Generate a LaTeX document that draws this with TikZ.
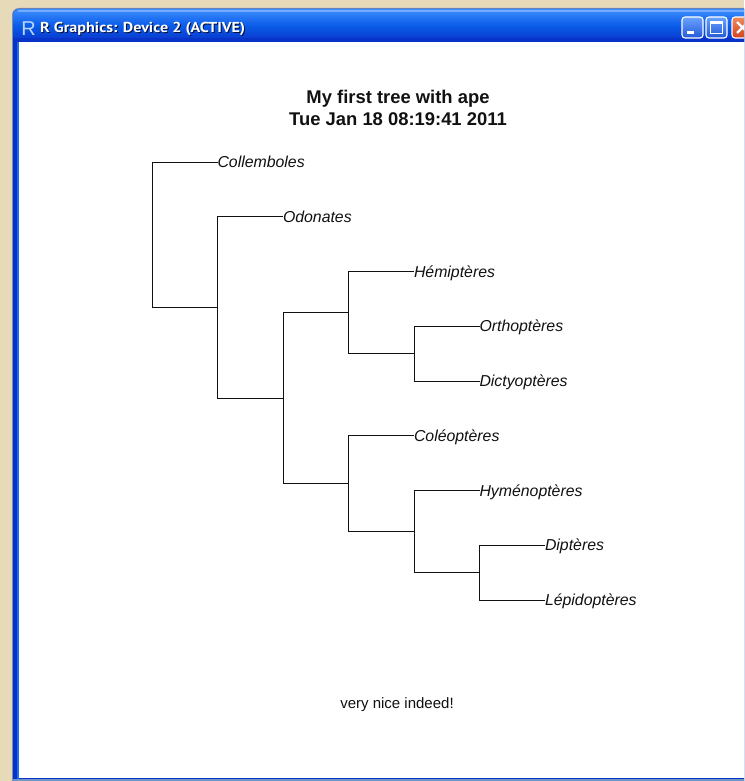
\documentclass[tikz,border=0pt]{standalone}
\usepackage{fontspec}
\setmainfont{Liberation Sans}
\newfontfamily\captionfont{PT Sans}
\definecolor{desk}{HTML}{E6DAB9}
\definecolor{xpdark}{HTML}{0833C8}
\definecolor{xpmid}{HTML}{0A5CE8}
\definecolor{xplight}{HTML}{3D8DFF}
\definecolor{xpedge}{HTML}{7D8BAA}
\definecolor{xpbottom}{HTML}{6F95C8}
\definecolor{btntop}{HTML}{6AA4FF}
\definecolor{btnbot}{HTML}{2458D8}
\definecolor{closetop}{HTML}{F08A5E}
\definecolor{closebot}{HTML}{D2421C}
\definecolor{ink}{HTML}{111111}
\newcommand{\wincaption}{\scalebox{1.12}[1]{R Graphics: Device 2 (ACTIVE)}}
\begin{document}
\begin{tikzpicture}[x=1pt,y=-1pt,
  branch/.style={draw=ink,line width=1pt},
  leaf/.style={anchor=west,inner sep=0pt,outer sep=0pt,text height=11.3pt,text depth=0pt,
    font=\fontsize{15.85}{18}\selectfont\itshape,text=ink},
  xpbtn/.style={draw=white,line width=1.1pt,rounded corners=3pt,top color=btntop,bottom color=btnbot},
  glyph/.style={fill=white,draw=none},
  captiontext/.style={anchor=west,inner sep=0pt,font=\captionfont\bfseries\fontsize{14.4}{16}\selectfont}]
\useasboundingbox (0,0) rectangle (744,781);
\clip (0,0) rectangle (744,781);
% desktop behind the window
\fill[desk] (0,0) rectangle (744,781);
% window frame
\fill[xpedge,rounded corners=7pt] (12,8) rectangle (760,790);
\fill[xpdark,rounded corners=6pt] (13,9) rectangle (760,790);
% title bar
\shade[top color=xplight,bottom color=xpdark,middle color=xpmid,rounded corners=6pt]
  (13,9) rectangle (760,42);
\fill[white,opacity=0.3] (18,10.5) rectangle (760,12);
\fill[xpdark] (13,38) rectangle (760,42);
\fill[xplight!60!xpdark] (17,42) rectangle (19,779);
% client area
\fill[white] (19,42) rectangle (760,778);
\fill[xpbottom] (13,778.5) rectangle (760,781);
% window icon and caption
\node[text=xplight!35!white,font=\fontsize{20}{20}\selectfont,inner sep=0pt] (icon) at (28.5,28.5) {R};
\node[captiontext,text=black!70!xpdark] at (41,30) {\wincaption};
\node[captiontext,text=white] (caption) at (40,29) {\wincaption};
% caption buttons
\path[xpbtn] (682,17) rectangle (703,38);
\fill[glyph] (687,31) rectangle (694,34);
\path[xpbtn] (706,17) rectangle (727,38);
\draw[white,line width=1.2pt] (710.5,21.5) rectangle (722.5,33.5);
\fill[glyph] (710,21) rectangle (723,24);
\path[draw=white,line width=1.1pt,rounded corners=3pt,top color=closetop,bottom color=closebot]
  (732,17) rectangle (753,38);
\draw[white,line width=2.2pt] (737,22) -- (748,33) (748,22) -- (737,33);

% plot title and note
\node[font=\bfseries\fontsize{18.4}{22}\selectfont,align=center,text=ink] (title) at (398,108)
  {My first tree with ape\\Tue Jan 18 08:19:41 2011};
\node[font=\fontsize{15}{18}\selectfont,text=ink] (note) at (397,705) {very nice indeed!};

% internal nodes of the tree
\coordinate (n8) at (479.5,572.6);
\coordinate (n7) at (414,531.6);
\coordinate (n6) at (348.5,483.7);
\coordinate (n5) at (414,353.6);
\coordinate (n4) at (348.5,312.6);
\coordinate (n3) at (283,398.2);
\coordinate (n2) at (217.5,307.5);
\coordinate (n1) at (152,234.7);

% tips
\node[leaf] (collemboles) at (217.5,162) {Collemboles};
\node[leaf] (odonates) at (283,216.75) {Odonates};
\node[leaf] (hemipteres) at (414,271.5) {Hémiptères};
\node[leaf] (orthopteres) at (479.5,326.25) {Orthoptères};
\node[leaf] (dictyopteres) at (479.5,381) {Dictyoptères};
\node[leaf] (coleopteres) at (414,435.75) {Coléoptères};
\node[leaf] (hymenopteres) at (479.5,490.5) {Hyménoptères};
\node[leaf] (dipteres) at (545,545.25) {Diptères};
\node[leaf] (lepidopteres) at (545,600) {Lépidoptères};

% branches (rectangular phylogram)
\draw[branch] (n1) |- (collemboles.west);
\draw[branch] (n1) |- (n2);
\draw[branch] (n2) |- (odonates.west);
\draw[branch] (n2) |- (n3);
\draw[branch] (n3) |- (n4);
\draw[branch] (n3) |- (n6);
\draw[branch] (n4) |- (hemipteres.west);
\draw[branch] (n4) |- (n5);
\draw[branch] (n5) |- (orthopteres.west);
\draw[branch] (n5) |- (dictyopteres.west);
\draw[branch] (n6) |- (coleopteres.west);
\draw[branch] (n6) |- (n7);
\draw[branch] (n7) |- (hymenopteres.west);
\draw[branch] (n7) |- (n8);
\draw[branch] (n8) |- (dipteres.west);
\draw[branch] (n8) |- (lepidopteres.west);
\end{tikzpicture}
\end{document}
